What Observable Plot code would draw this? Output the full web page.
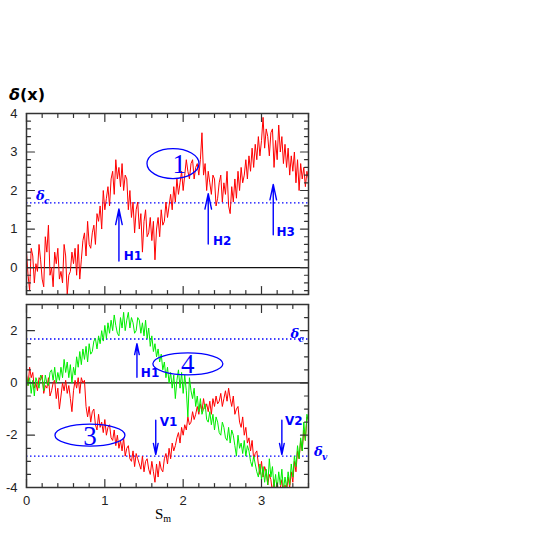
<!DOCTYPE html>
<html>
<head>
<meta charset="utf-8">
<script src="https://cdn.jsdelivr.net/npm/d3@7"></script>
<script src="https://cdn.jsdelivr.net/npm/@observablehq/plot@0.6"></script>
<style>
  body { margin: 0; background: #fff; }
  #wrap { position: relative; width: 545px; height: 545px; overflow: hidden; background: #fff; }
  #wrap svg { position: absolute; left: 0; }
  .title { position: absolute; left: 9px; top: 85px; font: bold 16px "DejaVu Sans", sans-serif; }
  .xlabel { position: absolute; left: 155px; top: 506px; font: 15px "Liberation Serif", serif; }
  .xlabel sub { font-size: 10px; vertical-align: -3px; }
</style>
</head>
<body>
<div id="wrap">
  <div class="title"><i>δ</i>(x)</div>
  <div class="xlabel">S<sub>m</sub></div>
</div>
<script>
// ---------- data ----------
const step = 0.02;           // spacing in S_m between samples
const topRed = [0.4,-0.2,-0.6,0.5,0.3,-0.4,0.1,-0.1,0.6,0.2,
  -0.3,-0.5,0.8,0.4,1.1,-0.2,0.0,-0.5,0.4,0.1,
  0.5,-0.3,-0.1,-0.4,0.6,0.3,-0.7,-0.2,-0.1,0.4,
  0.1,0.5,-0.2,0.6,-0.3,0.2,0.7,0.9,0.3,1.2,
  0.6,0.5,0.9,1.1,0.6,1.4,1.2,1.6,1.0,2.0,
  1.5,1.8,2.1,1.6,2.3,2.5,1.9,2.8,2.3,2.6,
  2.1,2.7,2.0,2.4,2.3,1.5,2.0,1.3,1.7,0.9,
  1.5,1.7,1.0,1.4,0.4,1.2,1.5,0.8,0.9,1.3,
  0.7,1.2,0.2,1.0,1.3,0.8,1.5,1.1,1.2,1.7,
  1.3,1.6,1.9,1.5,2.1,1.7,2.3,1.9,2.2,2.5,
  2.0,2.4,2.8,2.5,2.3,2.7,2.8,2.3,2.6,2.7,
  2.4,2.8,3.5,2.4,2.7,2.0,2.5,2.2,1.9,2.4,
  2.3,1.6,1.8,2.2,2.4,1.7,2.2,1.9,2.5,1.6,
  1.4,2.1,1.7,2.3,1.8,2.5,2.0,2.6,2.2,2.4,
  2.8,2.3,2.9,2.5,3.1,2.6,3.2,2.8,3.4,2.9,
  3.3,3.9,3.1,3.6,3.4,2.9,3.5,3.6,2.6,3.3,
  2.8,3.7,3.0,3.4,2.7,3.2,2.6,3.1,2.4,2.9,
  2.5,3.0,2.2,2.8,2.0,2.7,2.3,2.6,2.1,2.5,2.3];
const botRed = [0.3,-0.1,0.6,0.2,0.4,-0.2,0.0,-0.3,0.2,0.1,
  0.3,-0.4,-0.1,-0.2,0.2,-0.5,-0.3,0.0,0.1,-0.6,
  -0.2,-1.0,-0.5,0.0,-0.3,0.1,-0.4,-0.1,-0.6,-1.1,
  -0.3,0.1,-0.2,0.2,-0.4,0.2,0.0,0.1,-0.9,-1.3,
  -0.9,-1.5,-1.1,-1.0,-1.6,-1.8,-1.2,-1.7,-1.5,-1.9,
  -1.4,-2.0,-1.7,-1.6,-2.1,-2.2,-1.8,-2.4,-2.0,-2.5,
  -2.2,-2.6,-2.1,-2.8,-2.5,-2.4,-2.9,-3.0,-2.6,-3.2,
  -2.7,-2.9,-3.1,-3.3,-2.8,-3.4,-3.0,-2.9,-3.3,-3.5,
  -3.0,-3.4,-3.8,-3.1,-3.6,-3.0,-3.3,-3.4,-2.9,-2.7,
  -3.1,-2.5,-2.9,-2.3,-2.6,-2.4,-2.1,-1.9,-2.3,-1.7,
  -2.0,-1.6,-1.8,-1.3,-1.6,-1.5,-1.1,-1.4,-1.2,-0.9,
  -1.2,-0.8,-1.1,-0.6,-1.0,-0.8,-1.1,-0.7,-1.2,-0.6,
  -0.9,-0.5,-0.8,-0.7,-0.4,-0.9,-0.6,-0.3,-0.7,-0.2,
  -0.6,-0.9,-0.5,-1.2,-1.0,-0.9,-1.5,-1.7,-1.3,-2.0,
  -1.7,-2.3,-2.1,-2.6,-2.2,-2.9,-2.7,-2.6,-3.1,-3.5,
  -3.0,-3.6,-3.2,-3.4,-3.9,-3.5,-3.7,-4.2,-3.7,-4.3,
  -3.8,-4.2,-4.0,-3.7,-4.4,-3.9,-4.2,-3.6,-4.0,-3.4,
  -3.8,-3.0,-3.4,-2.6,-2.9,-2.2,-2.6,-1.8,-2.2,-1.3,-1.4];
const botGreen = [0.3,-0.1,0.2,-0.4,0.1,-0.5,0.2,0.0,-0.2,0.3,
  0.2,-0.3,0.3,0.0,-0.1,0.4,0.5,0.1,0.6,0.0,
  0.4,0.1,0.6,0.2,0.9,0.4,0.8,0.2,0.7,0.0,
  0.6,0.3,1.0,0.6,1.2,0.7,1.3,0.9,1.4,0.8,
  1.5,1.1,1.2,1.6,1.7,1.3,1.8,1.5,2.0,1.6,
  2.2,1.7,2.3,1.9,2.4,2.0,2.6,2.2,1.9,1.8,
  2.5,2.1,2.7,2.0,2.4,2.7,2.1,2.5,2.3,1.9,
  2.0,2.5,2.4,1.9,2.3,1.8,2.4,1.7,2.1,1.4,
  1.8,1.2,1.5,1.0,1.3,0.8,1.1,0.5,0.8,0.2,
  0.6,0.0,0.4,-0.2,0.3,-0.6,0.1,0.5,-0.2,0.4,
  -0.4,0.3,-0.3,-1.3,0.2,-0.3,-0.6,-0.2,-0.9,-0.5,
  -1.1,-0.6,-1.2,-1.0,-0.8,-1.4,-1.5,-1.1,-1.6,-1.2,
  -1.8,-1.3,-1.5,-1.9,-2.0,-1.5,-1.7,-2.1,-2.2,-1.7,
  -2.3,-1.8,-2.0,-2.4,-2.8,-2.0,-2.5,-2.3,-2.7,-2.2,
  -2.8,-2.4,-2.6,-3.0,-3.2,-2.8,-3.1,-3.4,-3.6,-3.1,
  -3.7,-3.2,-3.8,-3.3,-3.9,-2.9,-3.6,-3.2,-4.0,-3.5,
  -4.1,-3.4,-3.9,-3.3,-4.1,-3.6,-4.0,-3.4,-3.9,-3.1,
  -3.6,-2.8,-3.2,-2.4,-2.9,-2.1,-2.6,-1.5,-2.2,-1.2,-1.5];

const deltaC = 1.68;
const deltaV = -2.8;

const xTicks = [0, 1, 2, 3];
const topYTicks = [0, 1, 2, 3, 4];
const botYTicks = [-4, -2, 0, 2];

// annotations
const topArrows = [{x: 1.18, y1: 0.17, y2: 1.52}, {x: 2.32, y1: 0.61, y2: 1.92}, {x: 3.15, y1: 0.85, y2: 2.16}];
const topArrowLabels = [{x: 1.24, y: 0.30, t: "H1"}, {x: 2.38, y: 0.68, t: "H2"}, {x: 3.19, y: 0.92, t: "H3"}];
const botArrows = [{x: 1.41, y1: 0.22, y2: 1.50}, {x: 1.65, y1: -1.43, y2: -2.74}, {x: 3.26, y1: -1.43, y2: -2.74}];
const botArrowLabels = [{x: 1.46, y: 0.36, t: "H1"}, {x: 1.70, y: -1.50, t: "V1"}, {x: 3.30, y: -1.48, t: "V2"}];
const topRegions = [{x: 1.87, y: 2.70, tx: 1.95, t: "1", rx: 26, ry: 15}];
const botRegions = [{x: 0.81, y: -2.0, tx: 0.81, t: "3", rx: 35, ry: 11}, {x: 2.06, y: 0.73, tx: 2.06, t: "4", rx: 35, ry: 11}];
const topDeltaLabels = [{x: 0.12, y: 1.86, sub: "c"}];
const botDeltaLabels = [{x: 3.37, y: 1.86, sub: "c"}, {x: 3.67, y: -2.65, sub: "v"}];

// ---------- helpers ----------
const RED = "#ff0000", GREEN = "#00ee00", BLUE = "#0000ff", AX = "#333";
const xs = topRed.map((_, i) => +(i * step).toFixed(3));
const series = (arr) => arr.map((v, i) => ({x: xs[i], y: v}));

const tickShape = {draw(c, l) { c.moveTo(0, 0); c.lineTo(0, -l); }};
function ellipseSymbol(rx, ry) {
  const k = 0.5523;
  return {draw(c) {
    c.moveTo(rx, 0);
    c.bezierCurveTo(rx, ry * k, rx * k, ry, 0, ry);
    c.bezierCurveTo(-rx * k, ry, -rx, ry * k, -rx, 0);
    c.bezierCurveTo(-rx, -ry * k, -rx * k, -ry, 0, -ry);
    c.bezierCurveTo(rx * k, -ry, rx, -ry * k, rx, 0);
    c.closePath();
  }};
}
function frameTicks(xd, yd, yMajor, yMinorStep) {
  const xMinor = d3.range(0, xd[1] + 1e-9, 0.2).filter(v => Math.abs(v - Math.round(v)) > 1e-6);
  const yMinor = d3.range(Math.ceil(yd[0] / yMinorStep) * yMinorStep, yd[1] + 1e-9, yMinorStep)
    .filter(v => !yMajor.some(m => Math.abs(m - v) < 1e-6));
  const o = {shape: tickShape, anchor: "start", stroke: AX, strokeWidth: 1.2};
  const m = [];
  for (const [vals, len] of [[xTicks, 8], [xMinor, 4]]) {
    m.push(Plot.vector(vals, {...o, x: d => d, y: () => yd[0], length: len, rotate: 0}));
    m.push(Plot.vector(vals, {...o, x: d => d, y: () => yd[1], length: len, rotate: 180}));
  }
  for (const [vals, len] of [[yMajor, 8], [yMinor, 4]]) {
    m.push(Plot.vector(vals, {...o, y: d => d, x: () => xd[0], length: len, rotate: 90}));
    m.push(Plot.vector(vals, {...o, y: d => d, x: () => xd[1], length: len, rotate: -90}));
  }
  return m;
}
function annotations(arrows, labels, regions, deltas) {
  const m = [
    Plot.arrow(arrows, {x1: "x", x2: "x", y1: "y1", y2: "y2", stroke: BLUE, strokeWidth: 1.4, headLength: 17, headAngle: 24}),
    Plot.text(labels, {x: "x", y: "y", text: "t", fill: BLUE, textAnchor: "start", fontSize: 12, fontWeight: "bold", fontFamily: "DejaVu Sans"}),
    Plot.text(regions, {x: "tx", y: "y", text: "t", fill: BLUE, fontSize: 27, fontFamily: "Liberation Serif", dy: 1}),
    Plot.text(deltas, {x: "x", y: "y", text: () => "δ", fill: BLUE, textAnchor: "start", fontSize: 13, fontStyle: "italic", fontWeight: "bold", fontFamily: "DejaVu Serif"}),
    Plot.text(deltas, {x: "x", y: "y", text: "sub", fill: BLUE, textAnchor: "start", fontSize: 9, fontStyle: "italic", fontWeight: "bold", fontFamily: "DejaVu Serif", dx: 8, dy: 5})
  ];
  for (const r of regions) {
    m.push(Plot.dot([r], {x: "x", y: "y", symbol: ellipseSymbol(r.rx, r.ry), r: 10, stroke: BLUE, strokeWidth: 1.3, fill: "none"}));
  }
  return m;
}
const styleObj = {fontFamily: "Liberation Sans, sans-serif", fontSize: "13px", color: "#222", background: "transparent", overflow: "visible"};
const fmt = d => String(d);

// ---------- top panel ----------
const topX = [0, 3.6], topY = [-0.7, 4];
const topPlot = Plot.plot({
  width: 545, height: 300,
  marginLeft: 26, marginRight: 237, marginTop: 113, marginBottom: 6,
  x: {domain: topX, axis: null},
  y: {domain: topY},
  style: styleObj,
  marks: [
    Plot.ruleY([deltaC], {stroke: BLUE, strokeWidth: 1.3, strokeDasharray: "1.5,2.5"}),
    Plot.ruleY([0], {stroke: "#111", strokeWidth: 1.2}),
    Plot.line(series(topRed), {x: "x", y: "y", stroke: RED, strokeWidth: 1, clip: true}),
    ...annotations(topArrows, topArrowLabels, topRegions, topDeltaLabels),
    Plot.axisY({ticks: topYTicks, tickFormat: fmt, tickSize: 0, tickPadding: 9, label: null, fontSize: 13}),
    ...frameTicks(topX, topY, topYTicks, 0.2),
    Plot.frame({stroke: AX, strokeWidth: 1.5})
  ]
});
topPlot.style.top = "0px";

// ---------- bottom panel ----------
const botX = [0, 3.6], botY = [-4, 3];
const botPlot = Plot.plot({
  width: 545, height: 245,
  marginLeft: 26, marginRight: 237, marginTop: 4, marginBottom: 58,
  x: {domain: botX},
  y: {domain: botY},
  style: styleObj,
  marks: [
    Plot.ruleY([deltaC, deltaV], {stroke: BLUE, strokeWidth: 1.3, strokeDasharray: "1.5,2.5"}),
    Plot.ruleY([0], {stroke: "#111", strokeWidth: 1.2}),
    Plot.line(series(botRed), {x: "x", y: "y", stroke: RED, strokeWidth: 1, clip: true}),
    Plot.line(series(botGreen), {x: "x", y: "y", stroke: GREEN, strokeWidth: 1, clip: true}),
    ...annotations(botArrows, botArrowLabels, botRegions, botDeltaLabels),
    Plot.axisY({ticks: botYTicks, tickFormat: fmt, tickSize: 0, tickPadding: 9, label: null, fontSize: 13}),
    Plot.axisX({ticks: xTicks, tickFormat: fmt, tickSize: 0, tickPadding: 8, label: null, fontSize: 13}),
    ...frameTicks(botX, botY, botYTicks, 0.5),
    Plot.frame({stroke: AX, strokeWidth: 1.5})
  ]
});
botPlot.style.top = "300px";

const wrap = document.getElementById("wrap");
wrap.appendChild(topPlot);
wrap.appendChild(botPlot);
</script>
</body>
</html>
